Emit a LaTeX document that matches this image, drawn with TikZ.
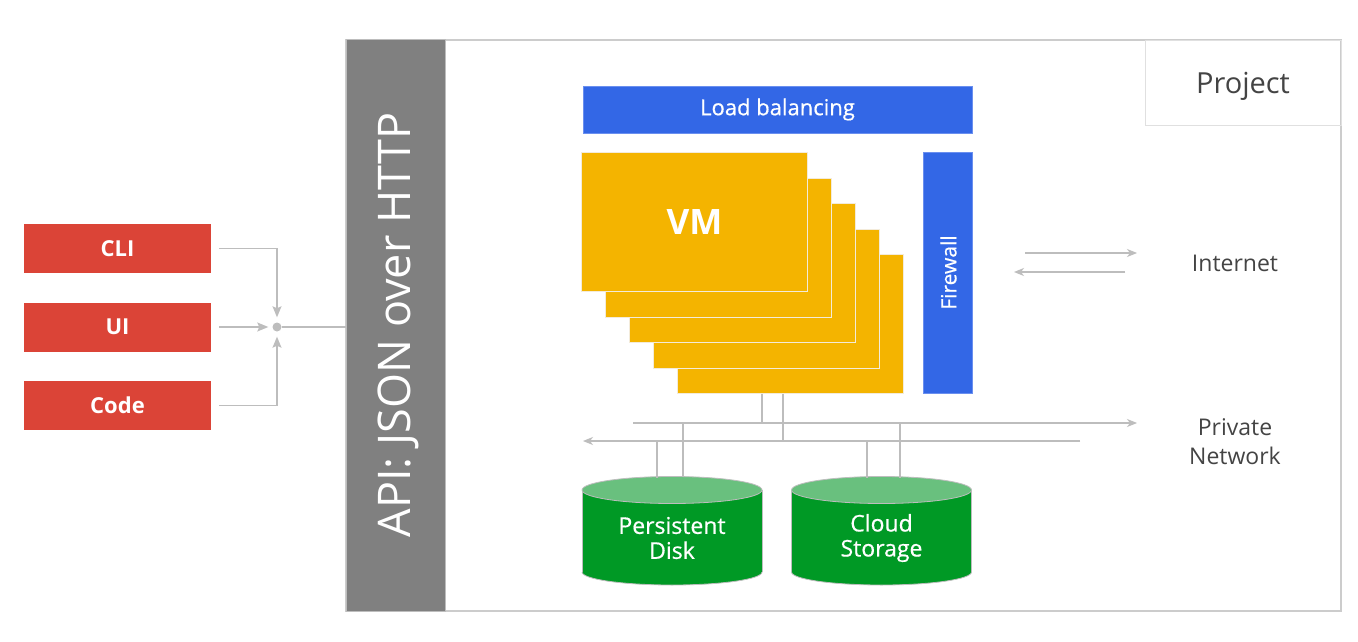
\documentclass[tikz,border=0pt]{standalone}
\usepackage{fontspec}
\setmainfont{Open Sans}
\newfontfamily\semib[FakeBold=0.6]{Open Sans}
\usetikzlibrary{arrows.meta}
\definecolor{gred}{HTML}{DB4437}
\definecolor{gblue}{HTML}{3367E6}
\definecolor{gblueline}{HTML}{6A8FEF}
\definecolor{gyellow}{HTML}{F4B400}
\definecolor{vmline}{HTML}{F3EBDA}
\definecolor{ggreen}{HTML}{009925}
\definecolor{glight}{HTML}{69C07E}
\definecolor{apigray}{HTML}{808080}
\definecolor{linegray}{HTML}{BDBDBD}
\definecolor{boxgray}{HTML}{CCCCCC}
\definecolor{txtgray}{HTML}{444444}
\tikzset{
  client/.style={fill=gred, draw=none, minimum width=187pt, minimum height=49pt, inner sep=0pt, text=white, font=\fontsize{22}{26}\selectfont\bfseries},
  vmbox/.style={fill=gyellow, draw=vmline, line width=0.8pt, minimum width=226pt, minimum height=139pt, inner sep=0pt},
  bluebox/.style={fill=gblue, draw=gblueline, line width=0.6pt, inner sep=0pt, text=white, font=\semib\fontsize{22}{26}\selectfont},
  conn/.style={draw=linegray, line width=1.2pt},
  tipL/.style={-{Stealth[length=11pt,width=9pt,inset=2pt]}},
  tipN/.style={-{Stealth[length=10pt,width=8pt,inset=3pt]}},
  label/.style={text=txtgray, font=\fontsize{23}{29}\selectfont, align=center},
  disktxt/.style={text=white, font=\semib\fontsize{23}{25}\selectfont, align=center},
}
\begin{document}
\begin{tikzpicture}[x=1pt,y=-1pt]
\useasboundingbox (0,0) rectangle (1358,642);
% project outer box
\node (proj) [draw=boxgray, line width=1.2pt, fill=white, minimum width=995pt, minimum height=571pt, inner sep=0pt] at (843.5,325.5) {};
\node (projlbl) [draw=boxgray!60, line width=0.8pt, minimum width=196pt, minimum height=85pt, inner sep=0pt] at (1243,82.5) {};
\node (projtxt) [text=txtgray, font=\fontsize{29}{32}\selectfont] at (1243,86) {Project};
% API bar
\node (api) [fill=apigray, draw=linegray, line width=1pt, minimum width=99pt, minimum height=571pt, inner sep=0pt] at (395.5,325.5) {};
\node (apitxt) [rotate=90, text=white, font=\fontsize{45}{48}\selectfont] at (398,325) {API: JSON over HTTP};
% clients
\node (cli) [client] at (117.5,248.5) {CLI};
\node (ui) [client] at (117.5,327) {UI};
\node (code) [client] at (117.5,405.5) {Code};
\node (hub) [circle, fill=linegray, inner sep=0pt, minimum size=9pt] at (277,327) {};
\draw[conn, tipL, shorten <=8pt, shorten >=5pt] (cli.east) -| (hub);
\draw[conn, tipL, shorten <=8pt, shorten >=4pt] (ui.east) -- (hub);
\draw[conn, tipL, shorten <=8pt, shorten >=5pt] (code.east) -| (hub);
\draw[conn] (hub) -- (hub -| api.west);
% load balancing
\node (lb) [bluebox, minimum width=389pt, minimum height=47pt] at (777.5,109.5) {Load balancing};
% VMs
\node (vm5) [vmbox] at (790.5,324) {};
\node (vm4) [vmbox] at (766.5,298.5) {};
\node (vm3) [vmbox] at (742.5,273) {};
\node (vm2) [vmbox] at (718.5,247.5) {};
\node (vm1) [vmbox, text=white, font=\fontsize{35}{38}\selectfont\bfseries] at (694.5,222) {VM};
% firewall
\node (fw) [bluebox, minimum width=49pt, minimum height=241pt] at (947.5,272.5) {};
\node (fwtxt) [rotate=90, text=white, font=\semib\fontsize{21}{24}\selectfont] at (948.5,272.5) {Firewall};
% internet
\coordinate (ia1) at (1025,253);
\coordinate (ia2) at (1137,253);
\coordinate (ib1) at (1125,272);
\coordinate (ib2) at (1014,272);
\draw[conn, tipN] (ia1) -- (ia2);
\draw[conn, tipN] (ib1) -- (ib2);
\node (inet) [label] at (1235,263) {Internet};
\node (pnet) [label] at (1235,442) {Private\\Network};
% private network bus
\coordinate (nt1) at (633,423);
\coordinate (nt2) at (1137,423);
\coordinate (nb1) at (1080,441);
\coordinate (nb2) at (583,441);
\draw[conn, tipN] (nt1) -- (nt2);
\draw[conn, tipN] (nb1) -- (nb2);
\draw[conn] ([xshift=-28.5pt]vm5.south) -- ([xshift=-28.5pt]vm5.south |- nt1);
\draw[conn] ([xshift=-7.5pt]vm5.south) -- ([xshift=-7.5pt]vm5.south |- nb1);
% disks
\foreach \cx in {672, 881.5}{
  \fill[ggreen] (\cx-90,490) rectangle (\cx+90,572);
  \fill[ggreen] (\cx,572) ellipse [x radius=90pt, y radius=13pt];
  \begin{scope}
    \clip (\cx-95,572) rectangle (\cx+95,600);
    \draw[linegray, line width=0.8pt] (\cx,572) ellipse [x radius=90pt, y radius=13pt];
  \end{scope}
  \draw[linegray, line width=0.8pt] (\cx-90,490) -- (\cx-90,572) (\cx+90,490) -- (\cx+90,572);
  \draw[linegray, line width=0.8pt, fill=glight] (\cx,490) ellipse [x radius=90pt, y radius=13.5pt];
}
\node (pd) [disktxt] at (672,538) {Persistent\\Disk};
\node (cs) [disktxt] at (881.5,538) {Cloud\\Storage};
\coordinate (pdA) at (657,478);
\coordinate (pdB) at (683,477);
\coordinate (csA) at (867,478);
\coordinate (csB) at (900,478);
\draw[conn] (pdA |- nb1) -- (pdA);
\draw[conn] (pdB |- nt1) -- (pdB);
\draw[conn] (csA |- nb1) -- (csA);
\draw[conn] (csB |- nt1) -- (csB);
\end{tikzpicture}
\end{document}
